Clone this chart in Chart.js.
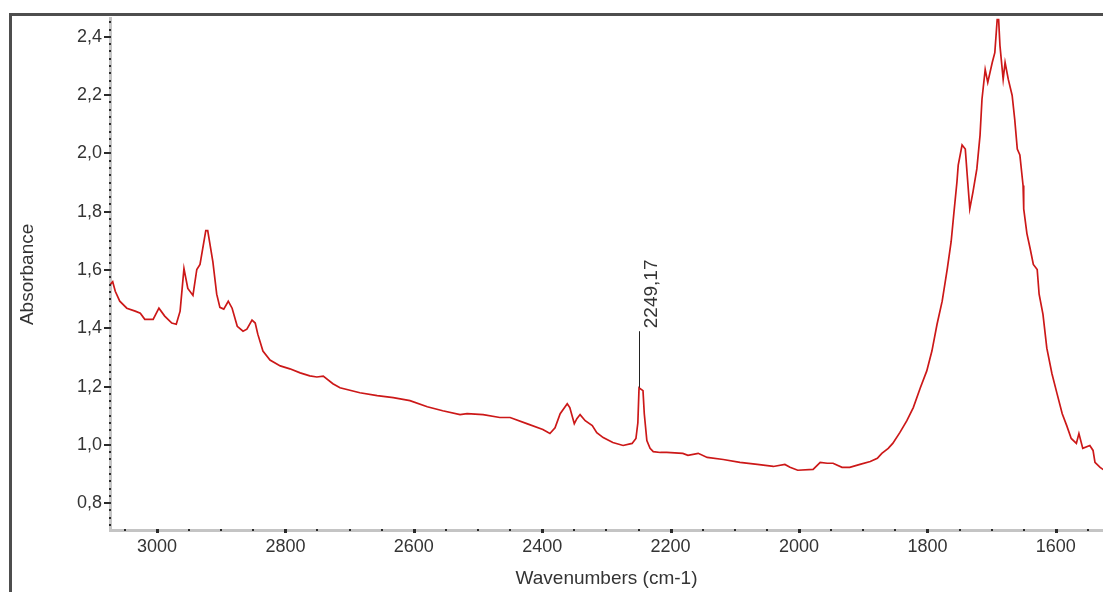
<!DOCTYPE html>
<html><head><meta charset="utf-8">
<script src="https://cdn.jsdelivr.net/npm/chart.js@4.4.1/dist/chart.umd.min.js"></script>
<style>html,body{margin:0;padding:0;background:#fff;overflow:hidden}canvas{display:block}</style>
</head><body>
<canvas id="c" width="1103" height="592"></canvas>
<script>
// ---- data ----
const wavenumbers = [
  3073,3069,3065,3058,3047,3034,3026,3019,3006,2997,2988,2977,2970,2964,
  2958,2952,2944,2938,2933,2924,2921,2913,2907,2902,2896,2889,2883,2875,2866,2860,2852,2847,2843,
  2835,2824,2808,2793,2777,2762,2751,2741,2726,2715,2684,2657,2632,2606,2579,2555,2528,2517,2492,2466,2450,2424,2399,2388,
  2380,2372,2361,2357,2350,2346,2341,2333,2322,2315,2305,2290,2274,2260,2254,
  2251,2249.17,2243,2241,2237,2232,2227,2216,2206,2181,2173,2157,2143,2118,2092,2065,2040,2022,2014,2002,
  1978,1967,1956,1947,1933,1921,1905,1889,1878,1871,1861,1854,1843,1832,1822,
  1811,1801,1793,1785,1777,1769,1763,1759,1754,1752,1746,1741,1738,1734,1729,1723,1718,1715,1710,1706,1699,1695,1690,
  1687,1682,1679,1674,1668,1664,1660,1656,1651,1650,1645,1640,1635,1629,1626,1620,1614,1606,1598,1590,1583,1576,1568,1564,1558,1547,1542,1539,1531,1526
];
const absorbance = [
  1.550,1.560,1.527,1.493,1.469,1.459,1.452,1.431,1.431,1.469,1.442,1.418,1.414,1.459,
  1.605,1.537,1.513,1.602,1.619,1.735,1.735,1.629,1.517,1.472,1.466,1.493,1.469,1.407,1.390,1.397,1.428,1.418,1.380,
  1.322,1.291,1.271,1.261,1.247,1.237,1.233,1.236,1.210,1.196,1.179,1.169,1.162,1.152,1.131,1.117,1.104,1.107,1.104,1.094,1.094,1.073,1.053,1.039,
  1.059,1.107,1.141,1.128,1.073,1.090,1.104,1.083,1.066,1.042,1.025,1.008,0.998,1.005,1.022,
  1.076,1.196,1.186,1.107,1.015,0.988,0.977,0.974,0.974,0.971,0.964,0.971,0.957,0.950,0.940,0.933,0.926,0.933,0.923,0.913,
  0.916,0.940,0.937,0.937,0.923,0.923,0.933,0.943,0.954,0.971,0.988,1.005,1.042,1.083,1.128,
  1.196,1.254,1.322,1.414,1.493,1.605,1.698,1.790,1.902,1.960,2.029,2.015,1.926,1.810,1.868,1.947,2.063,2.186,2.288,2.244,2.312,2.346,2.500,
  2.370,2.254,2.312,2.254,2.199,2.117,2.015,1.995,1.890,1.810,1.725,1.674,1.619,1.602,1.517,1.448,1.332,1.244,1.175,1.107,1.066,1.022,1.005,1.039,0.988,0.998,0.981,0.940,0.923,0.915
];
const xTickValues = [3000,2800,2600,2400,2200,2000,1800,1600];
const yTickValues = [0.8,1.0,1.2,1.4,1.6,1.8,2.0,2.2,2.4];
const xMinorTickValues = [];
for (let v = 1550; v <= 3050; v += 50) xMinorTickValues.push(v);
const yMinorTickValues = [];
for (let i = 29; i <= 98; i++) yMinorTickValues.push(i * 0.025);
const peakLabel = '2249,17';
const peakWavenumber = 2249.17;
const peakAbsorbance = 1.196;
const peakLabelBase = 1.390;
const xRange = [1526.5, 3073.2];
const yRange = [0.708, 2.462];

const FONT = '"Liberation Sans", Arial, sans-serif';
const TXT = '#343434';

const decor = {
  id: 'decor',
  afterDraw(chart) {
    const ctx = chart.ctx, xs = chart.scales.x, ys = chart.scales.y, ca = chart.chartArea;
    ctx.save();
    ctx.fillStyle = '#2a2a2a';
    yMinorTickValues.forEach(v => {
      const y = ys.getPixelForValue(v);
      if (y < ca.top + 1 || y > ca.bottom - 1) return;
      ctx.fillRect(ca.left - 1, Math.round(y) - 1, 2, 2);
    });
    yTickValues.forEach(v => {
      const y = ys.getPixelForValue(v);
      ctx.fillRect(ca.left - 6, Math.round(y) - 1, 7, 2);
    });
    xMinorTickValues.forEach(v => {
      const x = xs.getPixelForValue(v);
      ctx.fillRect(Math.round(x) - 1, ca.bottom - 1, 2, 2);
    });
    xTickValues.forEach(v => {
      const x = xs.getPixelForValue(v);
      ctx.fillRect(Math.round(x) - 1, ca.bottom - 1, 3, 4);
    });
    const px = Math.round(xs.getPixelForValue(peakWavenumber)) + 0.5;
    const pTop = ys.getPixelForValue(peakLabelBase);
    const pBot = ys.getPixelForValue(peakAbsorbance);
    ctx.strokeStyle = '#222';
    ctx.lineWidth = 1;
    ctx.beginPath(); ctx.moveTo(px, pTop); ctx.lineTo(px, pBot); ctx.stroke();
    ctx.translate(px + 12, pTop - 3);
    ctx.rotate(-Math.PI / 2);
    ctx.fillStyle = TXT;
    ctx.font = '19px ' + FONT;
    ctx.textAlign = 'left';
    ctx.textBaseline = 'middle';
    ctx.fillText(peakLabel, 0, 0);
    ctx.restore();
    ctx.save();
    ctx.strokeStyle = '#4e4e4e';
    ctx.lineWidth = 3;
    ctx.beginPath();
    ctx.moveTo(10.5, 592); ctx.lineTo(10.5, 14.5); ctx.lineTo(1103, 14.5);
    ctx.stroke();
    ctx.restore();
  }
};

new Chart(document.getElementById('c'), {
  type: 'scatter',
  data: {
    datasets: [{
      data: wavenumbers.map((w, i) => ({x: w, y: absorbance[i]})),
      showLine: true,
      borderColor: 'rgb(204,24,24)',
      borderWidth: 1.7,
      pointRadius: 0,
      tension: 0
    }]
  },
  options: {
    responsive: false,
    animation: false,
    devicePixelRatio: 1,
    layout: {padding: {left: 10, top: 16, right: 0, bottom: 0}},
    plugins: {legend: {display: false}, tooltip: {enabled: false}},
    scales: {
      x: {
        type: 'linear', reverse: true, min: xRange[0], max: xRange[1],
        afterBuildTicks: s => { s.ticks = xTickValues.map(v => ({value: v})); },
        afterFit: s => { s.height = 62; },
        grid: {display: false, drawTicks: false},
        border: {display: true, color: '#c4c4c4', width: 3},
        ticks: {autoSkip: false, maxRotation: 0, padding: 6, color: TXT,
                font: {family: FONT, size: 18}, callback: v => String(v)},
        title: {display: true, text: 'Wavenumbers (cm-1)', color: TXT,
                font: {family: FONT, size: 19}, padding: {top: 2, bottom: 2}}
      },
      y: {
        type: 'linear', min: yRange[0], max: yRange[1],
        afterBuildTicks: s => { s.ticks = yTickValues.map(v => ({value: v})); },
        afterFit: s => { s.width = 100; },
        grid: {display: false, drawTicks: false},
        border: {display: true, color: '#c4c4c4', width: 3},
        ticks: {autoSkip: false, padding: 8, color: TXT,
                font: {family: FONT, size: 18}, callback: v => v.toFixed(1).replace('.', ',')},
        title: {display: true, text: 'Absorbance', color: TXT,
                font: {family: FONT, size: 19}, padding: {top: 6, bottom: 6}}
      }
    }
  },
  plugins: [decor]
});
</script>
</body></html>
